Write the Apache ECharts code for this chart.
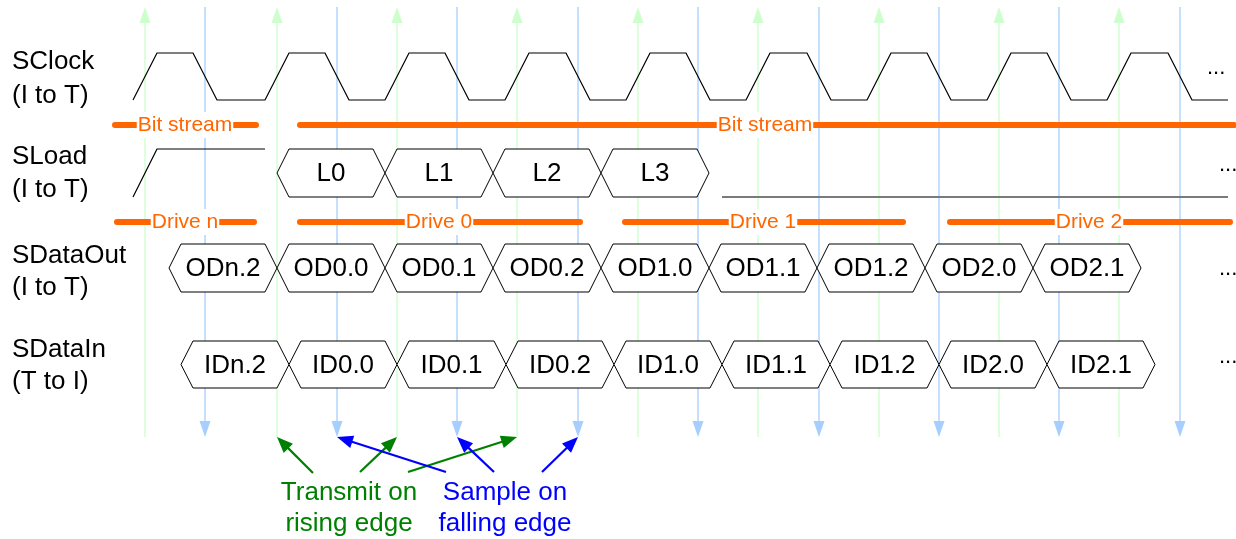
<!DOCTYPE html>
<html><head><meta charset="utf-8">
<script src="https://cdn.jsdelivr.net/npm/echarts@6/dist/echarts.min.js"></script>
<style>html,body{margin:0;padding:0;background:#fff}#c{width:1236px;height:539px}</style>
</head><body><div id="c"></div>
<script>
// ---------- data (time on x axis) ----------
const risingEdges  = [145, 277, 397, 517, 638, 758, 879, 999, 1119];
const fallingEdges = [205, 337, 457, 578, 698, 819, 939, 1059, 1180];
const clockStart = 133, clockEnd = 1228;

const signalNames = ['SClock', 'SLoad', 'SDataOut', 'SDataIn'];
const signalDirs  = ['(I to T)', '(I to T)', '(I to T)', '(T to I)'];

const loadIdleRise = 145, loadIdleEnd = 265;
const loadLabels = ['L0', 'L1', 'L2', 'L3'];
const loadBounds = [277, 385, 493, 601, 709];
const loadLowStart = 722, loadLowEnd = 1228;

const outLabels = ['ODn.2', 'OD0.0', 'OD0.1', 'OD0.2', 'OD1.0', 'OD1.1', 'OD1.2', 'OD2.0', 'OD2.1'];
const outBounds = [169, 277, 385, 493, 601, 709, 817, 925, 1033, 1141];

const inLabels = ['IDn.2', 'ID0.0', 'ID0.1', 'ID0.2', 'ID1.0', 'ID1.1', 'ID1.2', 'ID2.0', 'ID2.1'];
const inBounds = [181, 289, 397, 506, 614, 722, 830, 939, 1047, 1155];

const bitStreamLabels = ['Bit stream', 'Bit stream'];
const bitStreamSegs = [[115, 256], [300, 1234]];
const bitStreamLabelAt = [185, 765];

const driveLabels = ['Drive n', 'Drive 0', 'Drive 1', 'Drive 2'];
const driveSegs = [[117, 254], [300, 580], [625, 903], [950, 1230]];
const driveLabelAt = [185, 439, 763, 1089];

const transmitTargets = [277, 397, 517];
const transmitTails = [[313, 473], [360, 472], [408, 472]];
const sampleTargets = [337, 457, 578];
const sampleTails = [[446, 472], [494, 472], [542, 472]];

// ---------- layout / style ----------
const FONT = '"Liberation Sans", Arial, Helvetica, sans-serif';
const rows = { clock: {hi: 53, lo: 100}, load: {hi: 149, lo: 197}, out: {hi: 244, lo: 292}, inp: {hi: 341, lo: 388} };
const barY = { bit: 125, drive: 222 };
const edgeTop = 7, edgeBottom = 437;
const halfEdge = 12;
const ORANGE = '#ff6600';
const GREEN_L = '#ccffcc', BLUE_L = '#a6cfff';

function clockPoints() {
  const edges = risingEdges.map(t => [t, 1]).concat(fallingEdges.map(t => [t, 0])).sort((a, b) => a[0] - b[0]);
  const pts = []; let lvl = 0;
  edges.forEach(([t, n]) => { pts.push([t - halfEdge, lvl]); pts.push([t + halfEdge, n]); lvl = n; });
  pts.push([clockEnd, lvl]);
  return pts.map(([t, l]) => [t, l ? rows.clock.hi : rows.clock.lo]);
}

function edgeSeries(times, color, up) {
  return {
    type: 'custom', z: 1, silent: true, animation: false,
    data: times.map(t => [t, edgeTop]),
    renderItem(params, api) {
      const top = api.coord([api.value(0), edgeTop]);
      const bot = api.coord([api.value(0), edgeBottom]);
      const x = top[0];
      const head = up
        ? [[x, top[1]], [x - 5.5, top[1] + 16], [x + 5.5, top[1] + 16]]
        : [[x, bot[1]], [x - 5.5, bot[1] - 16], [x + 5.5, bot[1] - 16]];
      return { type: 'group', children: [
        { type: 'line', shape: { x1: x, y1: up ? top[1] + 10 : top[1], x2: x, y2: up ? bot[1] : bot[1] - 10 }, style: { stroke: color, lineWidth: 1.3 } },
        { type: 'polygon', shape: { points: head }, style: { fill: color } }
      ]};
    }
  };
}

function busSeries(labels, bounds, row) {
  return {
    type: 'custom', z: 3, silent: true, animation: false,
    data: labels.map((l, i) => [bounds[i], row.hi, bounds[i + 1], row.lo]),
    renderItem(params, api) {
      const x0 = api.value(0), x1 = api.value(2);
      const p0 = api.coord([x0, row.hi]);
      const p1 = api.coord([x1, row.lo]);
      const s = api.coord([x0 + halfEdge, row.hi])[0] - p0[0];
      const mid = (p0[1] + p1[1]) / 2;
      const pts = [[p0[0], mid], [p0[0] + s, p0[1]], [p1[0] - s, p0[1]], [p1[0], mid], [p1[0] - s, p1[1]], [p0[0] + s, p1[1]]];
      return { type: 'group', children: [
        { type: 'polygon', shape: { points: pts }, style: { fill: '#fff', stroke: '#000', lineWidth: 1 } },
        { type: 'text', x: (p0[0] + p1[0]) / 2, y: mid + 1, style: { text: labels[params.dataIndex], font: '26px ' + FONT, fill: '#000', align: 'center', verticalAlign: 'middle' } }
      ]};
    }
  };
}

function barSeries(labels, segs, labelAt, y) {
  return {
    type: 'custom', z: 4, silent: true, animation: false,
    data: segs.map((s, i) => [s[0], y, s[1], labelAt[i]]),
    renderItem(params, api) {
      const a = api.coord([api.value(0), y]);
      const b = api.coord([api.value(2), y]);
      const l = api.coord([api.value(3), y]);
      return { type: 'group', children: [
        { type: 'line', shape: { x1: a[0], y1: a[1], x2: b[0], y2: b[1] }, style: { stroke: ORANGE, lineWidth: 6, lineCap: 'round' } },
        { type: 'text', x: l[0], y: l[1], style: { text: labels[params.dataIndex], font: '21px ' + FONT, fill: ORANGE, align: 'center', verticalAlign: 'middle', backgroundColor: '#fff', padding: [3, 1, 2, 1] } }
      ]};
    }
  };
}

function arrowSeries(targets, tails, color) {
  return {
    type: 'custom', z: 5, silent: true, animation: false,
    data: targets.map((t, i) => [t, edgeBottom, tails[i][0], tails[i][1]]),
    renderItem(params, api) {
      const tip = api.coord([api.value(0), api.value(1)]);
      const tail = api.coord([api.value(2), api.value(3)]);
      const dx = tip[0] - tail[0], dy = tip[1] - tail[1];
      const len = Math.sqrt(dx * dx + dy * dy);
      const ux = dx / len, uy = dy / len;
      const L = 16, W = 6.5;
      const bx = tip[0] - ux * L, by = tip[1] - uy * L;
      const head = [[tip[0], tip[1]], [bx - uy * W, by + ux * W], [bx + uy * W, by - ux * W]];
      return { type: 'group', children: [
        { type: 'line', shape: { x1: tail[0], y1: tail[1], x2: bx + ux * 2, y2: by + uy * 2 }, style: { stroke: color, lineWidth: 2.2 } },
        { type: 'polygon', shape: { points: head }, style: { fill: color } }
      ]};
    }
  };
}

const chart = echarts.init(document.getElementById('c'), null, { renderer: 'canvas' });

const labelCenters = [79, 173.5, 272, 366];
const labelLH = [34, 33, 32, 32];
const dotsPos = [[1207, 68], [1219, 165], [1219, 269], [1219, 357]];

const graphics = [];
signalNames.forEach((n, i) => {
  graphics.push({ type: 'text', x: 12, y: labelCenters[i], silent: true,
    style: { text: n + '\n' + signalDirs[i], font: '26px ' + FONT, fill: '#000', lineHeight: labelLH[i], textAlign: 'left', textVerticalAlign: 'middle' } });
  graphics.push({ type: 'text', x: dotsPos[i][0], y: dotsPos[i][1], silent: true,
    style: { text: '...', font: '22px ' + FONT, fill: '#000', textAlign: 'left', textVerticalAlign: 'middle' } });
});
graphics.push({ type: 'text', x: 349, y: 508, silent: true,
  style: { text: 'Transmit on\nrising edge', font: '26px ' + FONT, fill: '#008000', lineHeight: 31, textAlign: 'center', textVerticalAlign: 'middle' } });
graphics.push({ type: 'text', x: 505, y: 508, silent: true,
  style: { text: 'Sample on\nfalling edge', font: '26px ' + FONT, fill: '#0000ff', lineHeight: 31, textAlign: 'center', textVerticalAlign: 'middle' } });

chart.setOption({
  animation: false,
  backgroundColor: '#fff',
  grid: { left: 0, right: 0, top: 0, bottom: 0 },
  xAxis: { type: 'value', min: 0, max: 1236, show: false },
  yAxis: { type: 'value', min: 0, max: 539, inverse: true, show: false },
  graphic: graphics,
  series: [
    edgeSeries(risingEdges, GREEN_L, true),
    edgeSeries(fallingEdges, BLUE_L, false),
    { type: 'line', z: 2, silent: true, symbol: 'none', data: clockPoints(), lineStyle: { color: '#000', width: 1.2 } },
    { type: 'line', z: 2, silent: true, symbol: 'none',
      data: [[clockStart, rows.load.lo], [loadIdleRise + halfEdge, rows.load.hi], [loadIdleEnd, rows.load.hi]],
      lineStyle: { color: '#000', width: 1.2 } },
    { type: 'line', z: 2, silent: true, symbol: 'none',
      data: [[loadLowStart, rows.load.lo], [loadLowEnd, rows.load.lo]],
      lineStyle: { color: '#7a7a7a', width: 2 } },
    busSeries(loadLabels, loadBounds, rows.load),
    busSeries(outLabels, outBounds, rows.out),
    busSeries(inLabels, inBounds, rows.inp),
    barSeries(bitStreamLabels, bitStreamSegs, bitStreamLabelAt, barY.bit),
    barSeries(driveLabels, driveSegs, driveLabelAt, barY.drive),
    arrowSeries(transmitTargets, transmitTails, '#008000'),
    arrowSeries(sampleTargets, sampleTails, '#0000ff')
  ]
});
</script>
</body></html>
